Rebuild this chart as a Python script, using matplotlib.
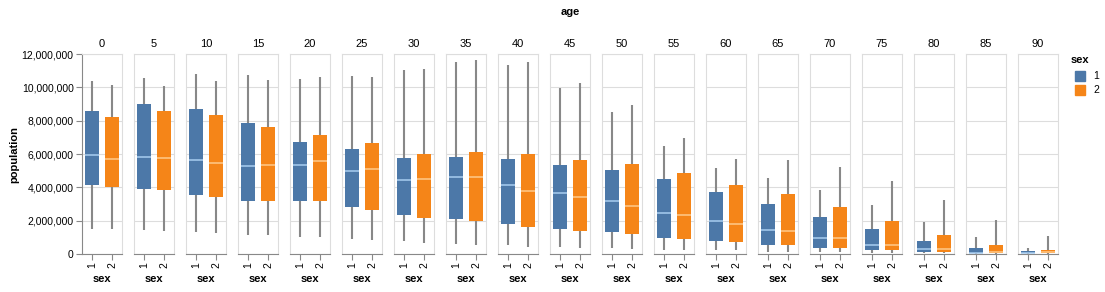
import matplotlib.pyplot as plt
from matplotlib.ticker import FuncFormatter

# values, in millions
ages = [0, 5, 10, 15, 20, 25, 30, 35, 40, 45, 50, 55, 60, 65, 70, 75, 80, 85, 90]

# sex 1
m_min = [1.52, 1.44, 1.30, 1.12, 1.04, 0.90, 0.76, 0.62, 0.52, 0.42, 0.34, 0.22, 0.22, 0.14, 0.10, 0.08, 0.04, 0.02, 0.02]
m_q1 = [4.12, 3.92, 3.52, 3.16, 3.16, 2.80, 2.36, 2.12, 1.80, 1.50, 1.30, 0.96, 0.80, 0.56, 0.38, 0.24, 0.12, 0.04, 0.04]
m_med = [5.92, 5.84, 5.64, 5.30, 5.32, 4.96, 4.46, 4.62, 4.12, 3.68, 3.16, 2.46, 1.98, 1.44, 0.96, 0.56, 0.30, 0.08, 0.08]
m_q3 = [8.60, 9.00, 8.70, 7.84, 6.72, 6.30, 5.76, 5.82, 5.68, 5.36, 5.06, 4.50, 3.74, 3.02, 2.24, 1.48, 0.80, 0.34, 0.16]
m_max = [10.40, 10.56, 10.78, 10.72, 10.50, 10.68, 11.04, 11.52, 11.34, 9.96, 8.52, 6.50, 5.14, 4.56, 3.82, 2.94, 1.94, 1.00, 0.38]

# sex 2
f_min = [1.48, 1.40, 1.26, 1.14, 1.04, 0.84, 0.66, 0.52, 0.44, 0.38, 0.32, 0.22, 0.22, 0.14, 0.10, 0.08, 0.04, 0.02, 0.02]
f_q1 = [4.04, 3.82, 3.42, 3.20, 3.16, 2.64, 2.16, 1.96, 1.64, 1.36, 1.18, 0.88, 0.74, 0.52, 0.36, 0.24, 0.14, 0.06, 0.06]
f_med = [5.70, 5.74, 5.46, 5.34, 5.56, 5.08, 4.50, 4.64, 3.80, 3.42, 2.86, 2.34, 1.82, 1.36, 0.96, 0.54, 0.32, 0.14, 0.12]
f_q3 = [8.24, 8.56, 8.36, 7.64, 7.16, 6.64, 6.00, 6.10, 5.98, 5.64, 5.38, 4.84, 4.16, 3.62, 2.84, 2.00, 1.16, 0.56, 0.26]
f_max = [10.16, 10.08, 10.36, 10.44, 10.64, 10.62, 11.12, 11.66, 11.52, 10.28, 8.94, 6.96, 5.70, 5.62, 5.22, 4.38, 3.26, 2.02, 1.10]

sexes = ['1', '2']
colors = ['#4c78a8', '#f58518']
med_colors = ['#a8cdf0', '#ffc98a']

W, H = 1105, 292
fig = plt.figure(figsize=(W / 100, H / 100), dpi=100)
plt.rcParams['font.family'] = 'Liberation Sans'

left0, step, pw = 82, 52, 40
top, bot = 54, 254

stats = [(m_min, m_q1, m_med, m_q3, m_max), (f_min, f_q1, f_med, f_q3, f_max)]

for i, age in enumerate(ages):
    ax = fig.add_axes([(left0 + step * i) / W, 1 - bot / H, pw / W, (bot - top) / H])
    for j in range(2):
        mn, q1, md, q3, mx = [s[i] * 1e6 for s in stats[j]]
        ax.vlines(j, mn, q1, color='#888888', lw=1.5, zorder=2)
        ax.vlines(j, q3, mx, color='#888888', lw=1.5, zorder=2)
        ax.bar(j, q3 - q1, bottom=q1, width=0.7, color=colors[j], zorder=3)
        ax.hlines(md, j - 0.35, j + 0.35, color=med_colors[j], lw=1.1, zorder=4)
    ax.set_xlim(-0.5, 1.5)
    ax.set_ylim(0, 12e6)
    ax.set_yticks(range(0, 12000001, 2000000))
    ax.grid(axis='y', color='#dddddd', lw=0.8, zorder=0)
    ax.set_axisbelow(True)
    for s in ['top', 'right', 'left']:
        ax.spines[s].set_color('#dddddd')
        ax.spines[s].set_linewidth(0.8)
    ax.spines['bottom'].set_color('#888888')
    ax.spines['bottom'].set_linewidth(0.8)
    ax.set_xticks([0, 1])
    ax.set_xticklabels(sexes, rotation=90, fontsize=7.5)
    ax.tick_params(axis='x', length=4, color='#888888', pad=2)
    ax.set_xlabel('sex', fontsize=8, fontweight='bold')
    ax.xaxis.set_label_coords(0.5, -(274 - bot) / (bot - top))
    ax.set_title(str(age), fontsize=8, pad=5)
    if i == 0:
        ax.yaxis.set_major_formatter(FuncFormatter(lambda v, p: f'{int(v):,}'))
        ax.tick_params(axis='y', length=4, color='#888888', labelsize=7.5, pad=2)
        ax.spines['left'].set_color('#888888')
        ax.set_ylabel('population', fontsize=8, fontweight='bold', va='center')
        ax.yaxis.set_label_coords(-(left0 - 14) / pw, 0.5)
    else:
        ax.tick_params(axis='y', length=0, labelleft=False)

fig.text(570 / W, 1 - 12 / H, 'age', ha='center', va='center', fontsize=8, fontweight='bold')

# legend
fig.text(1071 / W, 1 - 60 / H, 'sex', ha='left', va='center', fontsize=8, fontweight='bold')
for j, lab in enumerate(sexes):
    y = 76 + 14 * j
    fig.patches.append(plt.Rectangle((1075 / W, 1 - (y + 5) / H), 10 / W, 10 / H,
                                     transform=fig.transFigure, color=colors[j]))
    fig.text(1093 / W, 1 - y / H, lab, ha='left', va='center', fontsize=7.5)

fig.savefig('out.png', dpi=100)
